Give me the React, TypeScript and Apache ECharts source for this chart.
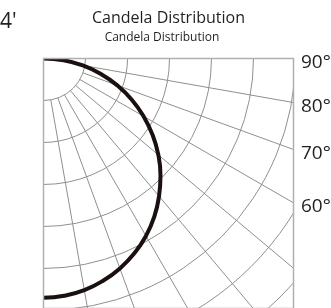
import React, { useEffect, useRef } from "react";
import * as echarts from "echarts";

const TITLE = "Candela Distribution";
const SUBTITLE = "Candela Distribution";
const CORNER_TEXT = "4'";
const ANGLES = [0, 5, 10, 15, 20, 25, 30, 35, 40, 45, 50, 55, 60, 65, 70, 75, 80, 85, 90];
const CANDELA = [570, 567, 560, 548, 532, 512, 488, 460, 428, 394, 357, 317, 275, 232, 187, 141, 95, 48, 0];
const RING_STEP = 100;
const RING_MAX = 843;
const SPOKE_STEP = 10;
const EDGE_LABEL_ANGLES = [90, 80, 70, 60];
const EDGE_LABELS = ["90°", "80°", "70°", "60°"];

const CX = 43.5;
const CY = 58.5;
const BOX = 250;
const OUTER = 354;
const INNER = 42;
const GRID_COLOR = "#8f8f8f";
const TEXT_COLOR = "#231f20";
const FONT = "'Open Sans', 'Noto Sans', sans-serif";

export default function App() {
  const ref = useRef<HTMLDivElement>(null);
  useEffect(() => {
    if (!ref.current) return;
    const chart = echarts.init(ref.current, null, { renderer: "svg" });
    const hiddenAxis = {
      axisLine: { show: false },
      axisTick: { show: false },
      axisLabel: { show: false },
    };
    const edgeTexts = EDGE_LABEL_ANGLES.map((a, i) => {
      const rad = (a * Math.PI) / 180;
      return {
        type: "text",
        z: 70,
        style: {
          x: 301,
          y: CY + 2.5 + (BOX * Math.cos(rad)) / Math.sin(rad),
          text: EDGE_LABELS[i],
          fill: TEXT_COLOR,
          font: `19px ${FONT}`,
          lineHeight: 19,
          textAlign: "left",
          textVerticalAlign: "middle",
        },
      };
    });
    chart.setOption({
      animation: false,
      polar: [
        { center: [CX, CY], radius: [INNER, OUTER] },
        { center: [CX, CY], radius: [0, OUTER] },
      ],
      angleAxis: [
        {
          polarIndex: 0,
          type: "value",
          min: 0,
          max: 90,
          interval: SPOKE_STEP,
          startAngle: 270,
          endAngle: 360,
          clockwise: false,
          ...hiddenAxis,
          splitLine: { show: true, lineStyle: { color: GRID_COLOR, width: 1 } },
        },
        {
          polarIndex: 1,
          type: "value",
          min: 0,
          max: 90,
          interval: SPOKE_STEP,
          startAngle: 270,
          endAngle: 360,
          clockwise: false,
          ...hiddenAxis,
          splitLine: { show: false },
        },
      ],
      radiusAxis: [
        {
          polarIndex: 0,
          type: "value",
          min: RING_STEP,
          max: RING_MAX,
          interval: RING_STEP,
          ...hiddenAxis,
          splitLine: { show: true, lineStyle: { color: GRID_COLOR, width: 1 } },
        },
        {
          polarIndex: 1,
          type: "value",
          min: 0,
          max: RING_MAX,
          interval: RING_STEP,
          ...hiddenAxis,
          splitLine: { show: false },
        },
      ],
      series: [
        {
          type: "line",
          coordinateSystem: "polar",
          polarIndex: 1,
          data: ANGLES.map((a, i) => [CANDELA[i], a]),
          showSymbol: false,
          smooth: true,
          clip: false,
          lineStyle: { color: "#1a1010", width: 4 },
          z: 10,
        },
      ],
      graphic: [
        {
          type: "rect",
          z: 50,
          shape: { x: CX + BOX + 0.5, y: 0, width: 60, height: 320 },
          style: { fill: "#ffffff" },
        },
        {
          type: "rect",
          z: 60,
          shape: { x: CX, y: CY, width: BOX, height: BOX },
          style: { fill: "none", stroke: "#b0b0b0", lineWidth: 1.5 },
        },
        {
          type: "text",
          z: 70,
          style: {
            x: 168.5,
            y: 17,
            text: TITLE,
            fill: TEXT_COLOR,
            font: `16px ${FONT}`,
            lineHeight: 16,
            textAlign: "center",
            textVerticalAlign: "middle",
          },
        },
        {
          type: "text",
          z: 70,
          style: {
            x: 162,
            y: 36.5,
            text: SUBTITLE,
            fill: TEXT_COLOR,
            font: `12px ${FONT}`,
            lineHeight: 12,
            textAlign: "center",
            textVerticalAlign: "middle",
          },
        },
        {
          type: "text",
          z: 70,
          style: {
            x: 0,
            y: 20,
            text: CORNER_TEXT,
            fill: TEXT_COLOR,
            font: `21px ${FONT}`,
            lineHeight: 21,
            textAlign: "left",
            textVerticalAlign: "middle",
          },
        },
        ...edgeTexts,
      ],
    });
    return () => chart.dispose();
  }, []);
  return (
    <div
      ref={ref}
      style={{ position: "fixed", left: 0, top: 0, width: 331, height: 308 }}
    />
  );
}
